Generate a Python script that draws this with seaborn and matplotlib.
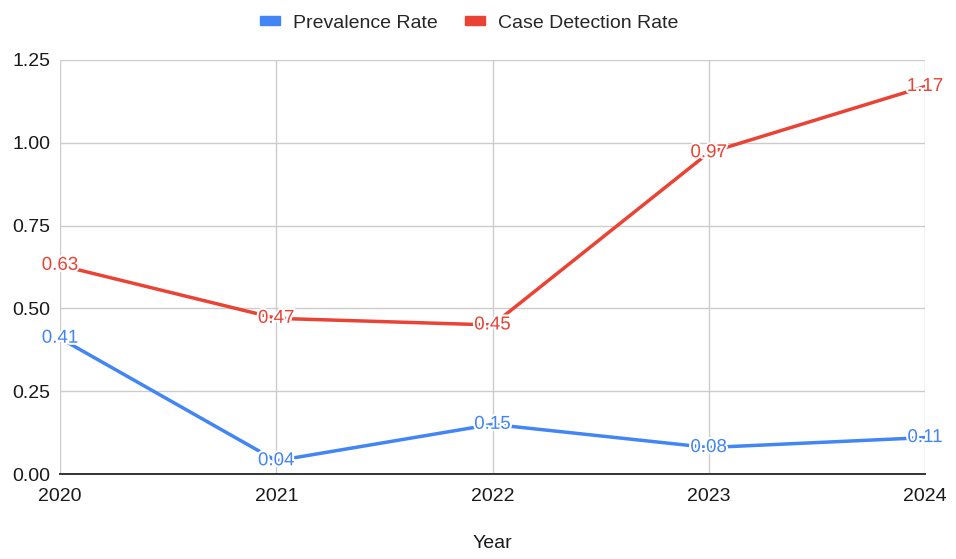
import pandas as pd
import matplotlib.pyplot as plt
import matplotlib.patheffects as pe
from matplotlib.patches import Patch
import seaborn as sns

years = [2020, 2021, 2022, 2023, 2024]
prevalence = [0.41, 0.04, 0.15, 0.08, 0.11]
detection = [0.63, 0.47, 0.45, 0.97, 1.17]
series_names = ['Prevalence Rate', 'Case Detection Rate']
colors = ['#4285f4', '#ea4335']

df = pd.DataFrame({
    'Year': years * 2,
    'Rate': prevalence + detection,
    'Series': [series_names[0]] * len(years) + [series_names[1]] * len(years),
})

sns.set_style('white')
plt.rcParams['font.family'] = ['Liberation Sans', 'DejaVu Sans']

fig = plt.figure(figsize=(9.56, 5.59), dpi=100)
ax = fig.add_axes([0.0628, 0.152, 0.9048, 0.7407])

sns.lineplot(data=df, x='Year', y='Rate', hue='Series', palette=colors,
             linewidth=2.5, ax=ax, legend=False)

# data labels centred on points, with white halo
for vals, c in zip([prevalence, detection], colors):
    for x, y in zip(years, vals):
        ax.text(x, y, f'{y:.2f}', color=c, fontsize=13.5, ha='center', va='center',
                path_effects=[pe.withStroke(linewidth=3, foreground='white')])

ax.set_xlim(2020, 2024)
ax.set_ylim(0, 1.25)
ax.set_xticks(years)
ax.set_yticks([0, 0.25, 0.5, 0.75, 1.0, 1.25])
ax.set_yticklabels(['0.00', '0.25', '0.50', '0.75', '1.00', '1.25'])
ax.grid(True, color='#cccccc', linewidth=1)
ax.set_axisbelow(True)
for s in ['left', 'right', 'top']:
    ax.spines[s].set_visible(False)
ax.spines['bottom'].set_color('#333333')
ax.spines['bottom'].set_linewidth(1.4)
ax.tick_params(axis='both', length=0, labelsize=14, colors='#1a1a1a')
ax.tick_params(axis='x', pad=10)
ax.tick_params(axis='y', pad=7)
ax.set_ylabel('')
ax.set_xlabel('Year', fontsize=14, color='#1a1a1a', labelpad=22)

handles = [Patch(color=c, label=n) for c, n in zip(colors, series_names)]
fig.legend(handles=handles, loc='upper center', bbox_to_anchor=(0.491, 1.005),
           ncol=2, frameon=False, fontsize=14, handlelength=1.0, handleheight=0.3,
           columnspacing=1.4, handletextpad=0.7)

fig.savefig('out.png', dpi=100)
